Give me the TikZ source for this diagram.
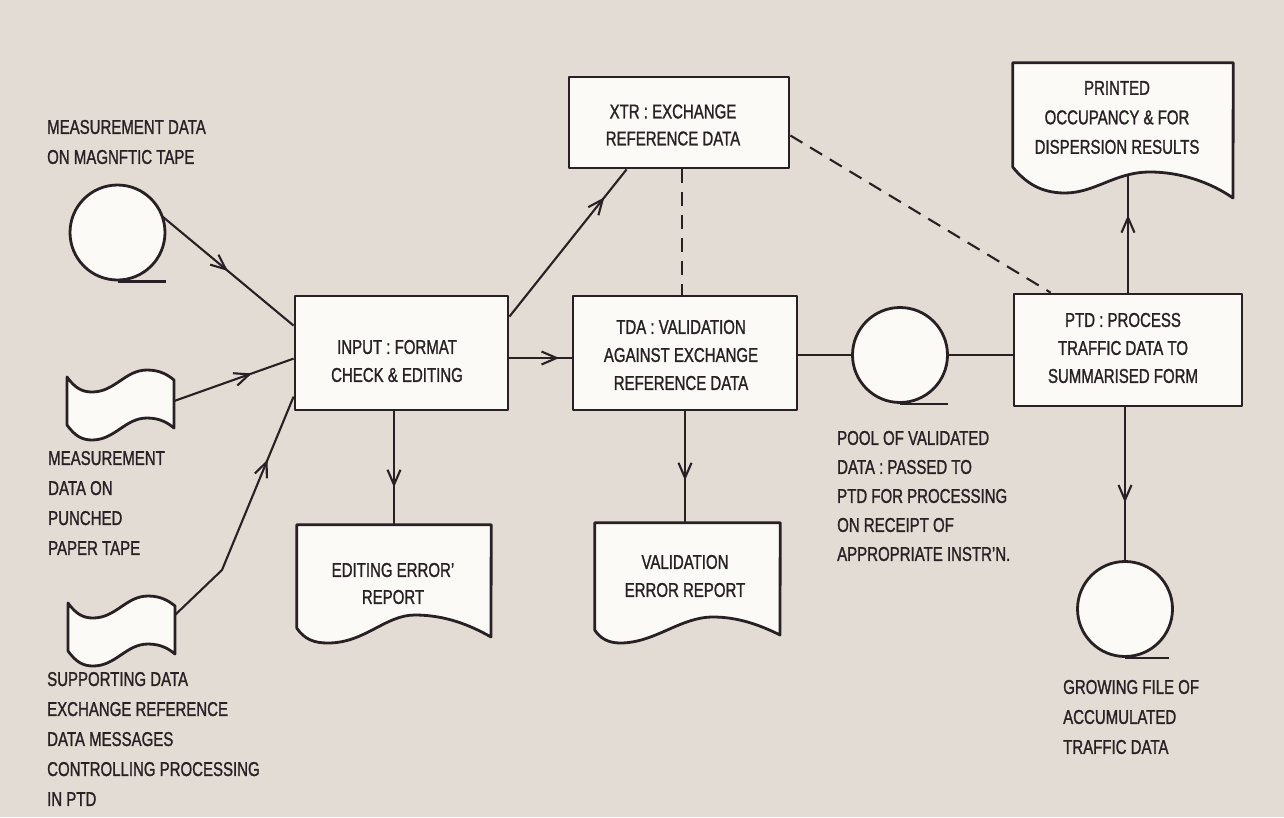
\documentclass[tikz,border=0pt]{standalone}
\usepackage{fontspec}
\setmainfont{Liberation Sans}[FakeStretch=0.75,FakeBold=1.2]
\usetikzlibrary{arrows.meta,decorations.markings,calc}
\definecolor{bg}{RGB}{227,220,212}
\definecolor{paper}{RGB}{251,250,246}
\definecolor{ink}{RGB}{40,32,36}
\begin{document}
\begin{tikzpicture}[x=1pt,y=-1pt,line join=round,
  box/.style={draw=ink,fill=paper,line width=2.8pt,rectangle,inner sep=0pt},
  hid/.style={rectangle,inner sep=0pt,draw=none},
  reel/.style={circle,draw=ink,fill=paper,line width=2.8pt,minimum size=95pt,inner sep=0pt},
  con/.style={draw=ink,line width=2.1pt},
  dsh/.style={draw=ink,line width=2.1pt,dash pattern=on 14pt off 9pt},
  arr/.style={postaction={decorate,decoration={markings,mark=at position #1 with {\arrow[ink]{Straight Barb[length=15pt,width=13pt]}}}}},
  docst/.style={draw=ink,fill=paper,line width=2.8pt},
  lbl/.style={font=\fontsize{20}{30}\selectfont,text=ink,align=left,inner sep=0pt,anchor=west},
  blbl/.style={font=\fontsize{20}{28}\selectfont,text=ink,align=center,inner sep=0pt},
  ptape/.pic={\draw[ink,fill=paper,line width=2.8pt] (0,0) .. controls (8,11) and (15,15) .. (25,15) .. controls (48,15) and (58,-7) .. (80,-7) .. controls (93,-7) and (101,-2) .. (107,3) -- (107,51) .. controls (101,46) and (93,41) .. (80,41) .. controls (58,41) and (48,63) .. (25,63) .. controls (15,63) and (8,59) .. (0,48) -- cycle;}
]
\fill[bg] (0,0) rectangle (1284,817);
\useasboundingbox (0,0) rectangle (1284,817);

% nodes (positions)
\node[box,minimum width=220pt,minimum height=91pt] (xtr) at (679,122.5) {};
\node[box,minimum width=213pt,minimum height=114pt] (inp) at (401.5,353) {};
\node[box,minimum width=224pt,minimum height=114pt] (tda) at (685,353) {};
\node[box,minimum width=228pt,minimum height=112pt] (ptd) at (1128,350) {};
\node[hid,minimum width=194pt,minimum height=103pt] (ed) at (394,576.5) {};
\node[hid,minimum width=185pt,minimum height=107pt] (vd) at (687.5,576.5) {};
\node[hid,minimum width=220pt,minimum height=104pt] (pr) at (1123,115) {};
\node[hid,minimum width=107pt,minimum height=48pt] (pt1) at (120.5,401) {};
\node[hid,minimum width=107pt,minimum height=48pt] (pt2) at (121.5,627) {};
\coordinate (bend) at (222,570);
\coordinate (prb) at (1128,175);

% connectors
\draw[con,arr=0.5] (117.5,232.5) ++(-20:47.5) -- ([yshift=-31pt]inp.north west);
\draw[con,arr=0.65] (pt1.east) -- ([yshift=-64pt]inp.north west);
\draw[con,arr=0.73] ([yshift=-12pt]pt2.north east) -- (bend) -- ([yshift=-102pt]inp.north west);
\draw[con,arr=0.8] ([yshift=-5pt]inp.east) -- ([yshift=-5pt]tda.west);
\draw[con,arr=0.81] ([yshift=-22pt]inp.north east) -- ([xshift=59pt]xtr.south west);
\draw[dsh] ([xshift=3pt]xtr.south) -- ([xshift=-3pt]tda.north);
\draw[dsh] ([yshift=-13pt]xtr.east) -- ([xshift=38pt]ptd.north west);
\draw[con] ([yshift=-2pt]tda.east) -- (852,355);
\draw[con] (948,355) -- ([yshift=-5pt]ptd.west);
\draw[con,arr=0.67] (inp.south -| ed.north) -- (ed.north);
\draw[con,arr=0.62] (tda.south) -- (tda.south |- vd.north);
\draw[con,arr=0.66] (ptd.north) -- (ptd.north |- prb);
\draw[con,arr=0.62] (ptd.south -| 1125,0) -- (1125,561);

% reels
\node[reel] (mt1) at (117.5,232.5) {};
\draw[ink,line width=2.8pt] (mt1.south) -- ++(48,0);
\node[reel] (pool) at (900,355) {};
\draw[ink,line width=2.8pt] (pool.south) -- ++(48,0);
\node[reel] (gf) at (1125,609) {};
\draw[ink,line width=2.8pt] (gf.south) -- ++(44,0);

% punched tapes
\pic at (67,377) {ptape};
\pic at (68,603) {ptape};

% documents
\draw[docst] (ed.south west) -- (ed.north west) -- (ed.north east) -- (491,637) .. controls (470,625) and (445,615) .. (415,615) .. controls (385,615) and (365,643) .. (328,643) .. controls (315,643) and (305,640) .. (ed.south west) -- cycle;
\draw[docst] (vd.south west) -- (vd.north west) -- (vd.north east) -- (780,635) .. controls (760,625) and (738,617) .. (713,617) .. controls (680,617) and (655,643) .. (620,643) .. controls (608,643) and (600,638) .. (vd.south west) -- cycle;
\draw[docst] (pr.south west) -- (pr.north west) -- (pr.north east) -- (1233,198) .. controls (1210,182) and (1180,172) .. (1150,172) .. controls (1115,172) and (1095,193) .. (1065,193) .. controls (1040,193) and (1025,182) .. (pr.south west) -- cycle;

% box texts
\node[blbl,font=\fontsize{20}{27}\selectfont] (txtr) at (673,125) {XTR : EXCHANGE\\REFERENCE DATA};
\node[blbl] (tinp) at (397,361) {INPUT : FORMAT\\CHECK \& EDITING};
\node[blbl] (ttda) at (681,355) {TDA : VALIDATION\\AGAINST EXCHANGE\\REFERENCE DATA};
\node[blbl] (tptd) at (1123,348) {PTD : PROCESS\\TRAFFIC DATA TO\\SUMMARISED FORM};
\node[blbl,font=\fontsize{20}{27}\selectfont] (ted) at (393,583.5) {EDITING ERROR'\\REPORT};
\node[blbl] (tvd) at (685,576) {VALIDATION\\ERROR REPORT};
\node[blbl,font=\fontsize{20}{29.5}\selectfont] (tpr) at (1117,117.5) {PRINTED\\OCCUPANCY \& FOR\\DISPERSION RESULTS};

% outer labels
\node[lbl] (l1) at (47,142) {MEASUREMENT DATA\\ON MAGNFTIC TAPE};
\node[lbl] (l2) at (48,503) {MEASUREMENT\\DATA ON\\PUNCHED\\PAPER TAPE};
\node[lbl] (l3) at (47,739) {SUPPORTING DATA\\EXCHANGE REFERENCE\\DATA MESSAGES\\CONTROLLING PROCESSING\\IN PTD};
\node[lbl,font=\fontsize{20}{29}\selectfont] (l4) at (837,496) {POOL OF VALIDATED\\DATA : PASSED TO\\PTD FOR PROCESSING\\ON RECEIPT OF\\APPROPRIATE INSTR'N.};
\node[lbl] (l5) at (1063,717) {GROWING FILE OF\\ACCUMULATED\\TRAFFIC DATA};
\end{tikzpicture}
\end{document}
